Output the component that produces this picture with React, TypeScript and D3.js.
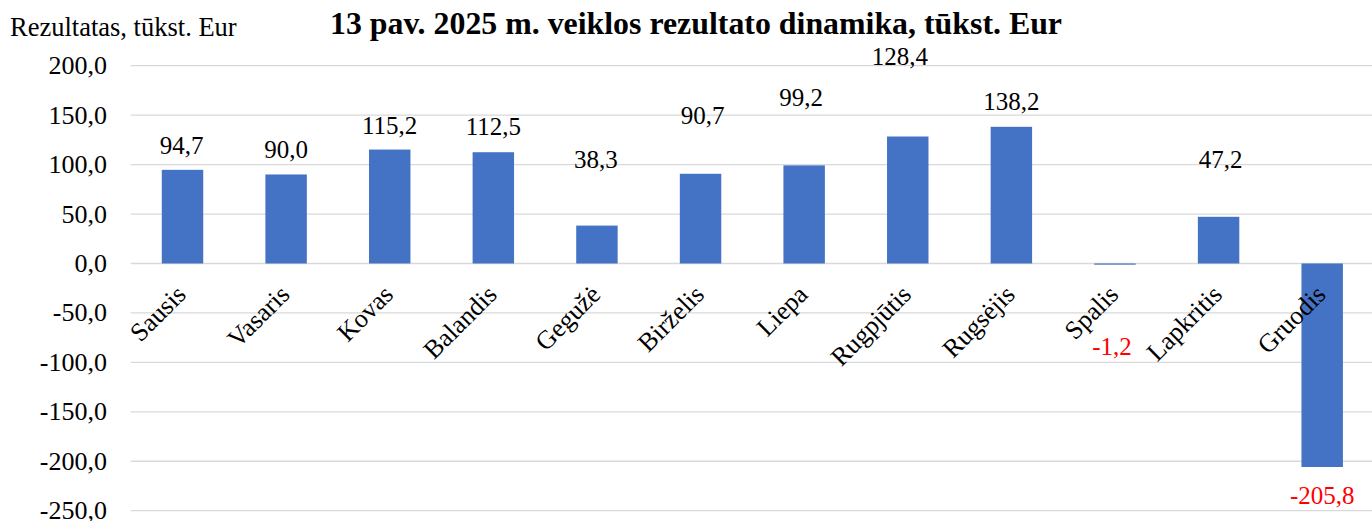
import * as d3 from 'd3';
import React, { useEffect, useRef } from 'react';

// chart data
const months = ['Sausis', 'Vasaris', 'Kovas', 'Balandis', 'Gegužė', 'Birželis', 'Liepa', 'Rugpjūtis', 'Rugsėjis', 'Spalis', 'Lapkritis', 'Gruodis'];
const results = [94.7, 90.0, 115.2, 112.5, 38.3, 90.7, 99.2, 128.4, 138.2, -1.2, 47.2, -205.8];
const yTicks = [200, 150, 100, 50, 0, -50, -100, -150, -200, -250];

const title = '13 pav. 2025 m. veiklos rezultato dinamika, tūkst. Eur';
const yTitle = 'Rezultatas, tūkst. Eur';

// labels were moved by hand in the original, keep the offsets apart from data
const labelGap = [16, 16, 16, 17, 58, 50, 59, 72, 17, 90, 49, 37];
const labelShiftX = [-1, 0, 0, 0, -1, 2, -3, -8, 0, -3, 2, 0];

const W = 1372;
const H = 521;
const FONT = '"Liberation Serif", "Times New Roman", serif';

const lt = d3.formatLocale({ decimal: ',', thousands: ' ', grouping: [3], currency: ['', '€'], minus: '-' });
const fmt = lt.format('.1f');

function App() {
    const ref = useRef(null);

    useEffect(() => {
        const svg = d3.select(ref.current);
        svg.selectAll('*').remove();

        const x = d3.scaleBand().domain(months).range([130.7, 1374]).paddingInner(0.6).paddingOuter(0.3);
        const y = d3.scaleLinear().domain([-250, 200]).range([510.7, 65.7]);
        const center = (m) => x(m) + x.bandwidth() / 2;

        // gridlines
        svg.append('g')
            .selectAll('line')
            .data(yTicks)
            .enter()
            .append('line')
            .attr('x1', 130.7)
            .attr('x2', W)
            .attr('y1', d => y(d))
            .attr('y2', d => y(d))
            .attr('stroke', '#d9d9d9')
            .attr('stroke-width', 1.3);

        // tick labels
        svg.append('g')
            .selectAll('text')
            .data(yTicks)
            .enter()
            .append('text')
            .attr('x', 107)
            .attr('y', d => y(d) + 8.5)
            .attr('text-anchor', 'end')
            .style('font-family', FONT)
            .style('font-size', '26px')
            .attr('fill', '#000')
            .text(d => fmt(d));

        // bars
        svg.append('g')
            .selectAll('rect')
            .data(results)
            .enter()
            .append('rect')
            .attr('x', (d, i) => x(months[i]))
            .attr('width', x.bandwidth())
            .attr('y', d => y(Math.max(0, d)))
            .attr('height', d => Math.abs(y(d) - y(0)))
            .attr('fill', '#4472C4');

        // value labels
        svg.append('g')
            .selectAll('text')
            .data(results)
            .enter()
            .append('text')
            .attr('x', (d, i) => center(months[i]) + labelShiftX[i])
            .attr('y', (d, i) => d >= 0 ? y(d) - labelGap[i] : y(d) + labelGap[i])
            .attr('text-anchor', 'middle')
            .style('font-family', FONT)
            .style('font-size', '25px')
            .attr('fill', d => d < 0 ? '#FF0000' : '#000')
            .text(d => fmt(d));

        // category labels, rotated
        svg.append('g')
            .selectAll('text')
            .data(months)
            .enter()
            .append('text')
            .attr('transform', d => `translate(${center(d) + 5},296) rotate(-45)`)
            .attr('text-anchor', 'end')
            .style('font-family', FONT)
            .style('font-size', '26px')
            .attr('fill', '#000')
            .text(d => d);

        // titles
        svg.append('text')
            .attr('x', 10)
            .attr('y', 36)
            .style('font-family', FONT)
            .style('font-size', '26.5px')
            .attr('fill', '#000')
            .text(yTitle);

        svg.append('text')
            .attr('x', 696)
            .attr('y', 34)
            .attr('text-anchor', 'middle')
            .attr('textLength', 732)
            .attr('lengthAdjust', 'spacingAndGlyphs')
            .style('font-family', FONT)
            .style('font-size', '32px')
            .style('font-weight', 'bold')
            .attr('fill', '#000')
            .text(title);
    }, []);

    return (
        <svg ref={ref} width={W} height={H} style={{ position: 'fixed', left: 0, top: 0, background: '#fff' }}></svg>
    );
}

export default App;
